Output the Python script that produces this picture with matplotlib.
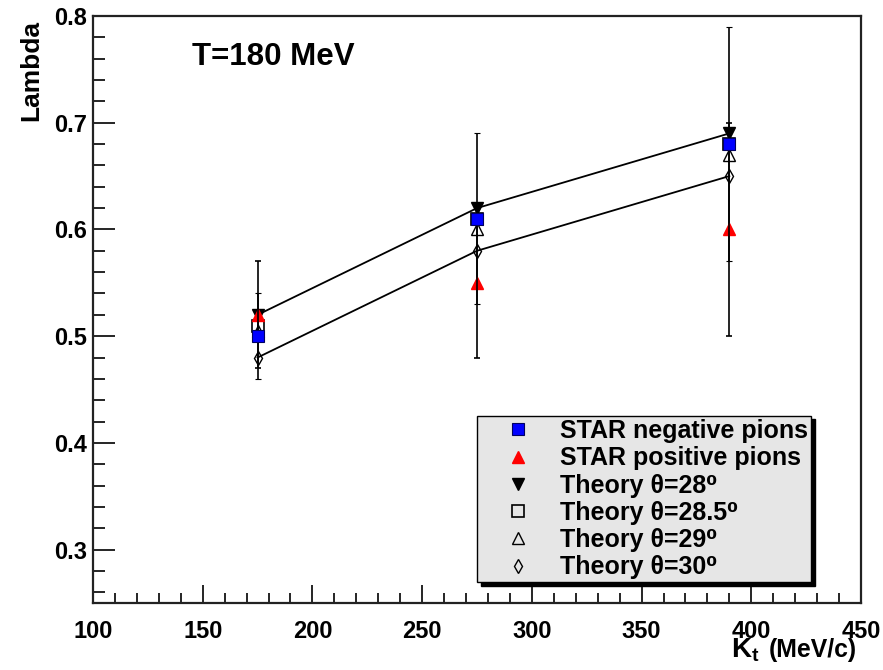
import matplotlib
matplotlib.use('Agg')
import matplotlib.pyplot as plt
from matplotlib.ticker import MultipleLocator
from matplotlib.lines import Line2D

plt.rcParams['font.family'] = ['Liberation Sans', 'DejaVu Sans']
plt.rcParams['font.weight'] = 'bold'
plt.rcParams['mathtext.fontset'] = 'custom'
plt.rcParams['mathtext.rm'] = 'Liberation Sans:bold'
plt.rcParams['mathtext.bf'] = 'Liberation Sans:bold'
plt.rcParams['mathtext.it'] = 'Liberation Sans:bold'

# data
kt = [175, 275, 390]
star_neg = [0.50, 0.61, 0.68]
star_neg_err = [0.04, 0.08, 0.11]
star_pos = [0.52, 0.55, 0.60]
star_pos_err = [0.05, 0.07, 0.10]
theory_28 = [0.52, 0.62, 0.69]
theory_285 = [0.51, 0.61, 0.68]
theory_29 = [0.505, 0.60, 0.67]
theory_30 = [0.48, 0.58, 0.65]

labels = ['STAR negative pions', 'STAR positive pions', 'Theory θ=28\u2070',
          'Theory θ=28.5\u2070', 'Theory θ=29\u2070', 'Theory θ=30\u2070']

fig = plt.figure(figsize=(8.83, 6.70), dpi=100)
ax = fig.add_axes([93/883, 67/670, 768/883, 587/670])

# theory curves
l28, = ax.plot(kt, theory_28, color='black', lw=1.3, marker='v', ms=9, mfc='black', mec='black', zorder=3)
l285, = ax.plot(kt, theory_285, ls='none', marker='s', ms=9, mfc='none', mec='black', mew=1.2, zorder=3)
l29, = ax.plot(kt, theory_29, ls='none', marker='^', ms=8, mfc='none', mec='black', mew=1.0, zorder=3)
l30, = ax.plot(kt, theory_30, color='black', lw=1.3, marker='d', ms=7, mfc='none', mec='black', mew=1.0, zorder=3)

# STAR data
h_pos = ax.errorbar(kt, star_pos, yerr=star_pos_err, fmt='^', ms=9, color='red', mec='red',
                    ecolor='black', elinewidth=1.2, capsize=2, capthick=1.2, zorder=4)
h_neg = ax.errorbar(kt, star_neg, yerr=star_neg_err, fmt='s', ms=8, color='blue', mec='#000060',
                    mew=0.8, ecolor='black', elinewidth=1.2, capsize=2, capthick=1.2, zorder=5)

ax.set_xlim(100, 450)
ax.set_ylim(0.25, 0.8)
ax.xaxis.set_major_locator(MultipleLocator(50))
ax.xaxis.set_minor_locator(MultipleLocator(10))
ax.yaxis.set_major_locator(MultipleLocator(0.1))
ax.yaxis.set_minor_locator(MultipleLocator(0.02))
ax.tick_params(axis='x', which='major', direction='in', length=13, width=1.2, pad=12,
               labelsize=17, top=False)
ax.tick_params(axis='x', which='minor', direction='in', length=7, width=1.2, top=False)
ax.tick_params(axis='y', which='major', direction='in', length=16, width=1.2, pad=4,
               labelsize=17, right=False)
ax.tick_params(axis='y', which='minor', direction='in', length=8.5, width=1.2, right=False)
ax.set_xticks([100, 150, 200, 250, 300, 350, 400, 450])
ax.set_xticklabels(['100', '150', '200', '250', '300', '350', '400', '450'])
for lab in ax.get_xticklabels() + ax.get_yticklabels():
    lab.set_fontweight('bold')
for s in ax.spines.values():
    s.set_linewidth(1.6)
    s.set_color('#222222')

ax.text(0.129, 0.930, 'T=180 MeV', transform=ax.transAxes, fontsize=22.5, fontweight='bold',
        ha='left', va='center')
ax.text(-0.081, 0.993, 'Lambda', transform=ax.transAxes, fontsize=19, fontweight='bold',
        rotation=90, ha='center', va='top')
ax.text(0.831, -0.092, r'K$_{t}$', transform=ax.transAxes, fontsize=20,
        fontweight='bold', ha='left', va='baseline')
ax.text(0.995, -0.092, '(MeV/c)', transform=ax.transAxes, fontsize=17.8,
        fontweight='bold', ha='right', va='baseline')

# legend: marker-only handles
src = [h_neg[0], h_pos[0], l28, l285, l29, l30]
leg_handles = [Line2D([], [], ls='none', marker=h.get_marker(), ms=h.get_markersize(),
                      mfc=h.get_markerfacecolor(), mec=h.get_markeredgecolor(),
                      mew=h.get_markeredgewidth()) for h in src]
leg = ax.legend(leg_handles, labels, loc='upper left', bbox_to_anchor=((477-93)/768, (603-416)/587),
                borderaxespad=0, frameon=True, fancybox=False,
                facecolor='#e6e6e6', edgecolor='black', framealpha=1,
                shadow={'color': 'black', 'alpha': 1, 'ox': 3, 'oy': -2.5},
                labelspacing=0.13, handlelength=3.0, handletextpad=0.2, borderpad=0.12,
                prop={'weight': 'bold', 'size': 18})
leg.get_frame().set_linewidth(1.0)

fig.savefig('out.png', dpi=100, facecolor='white')
